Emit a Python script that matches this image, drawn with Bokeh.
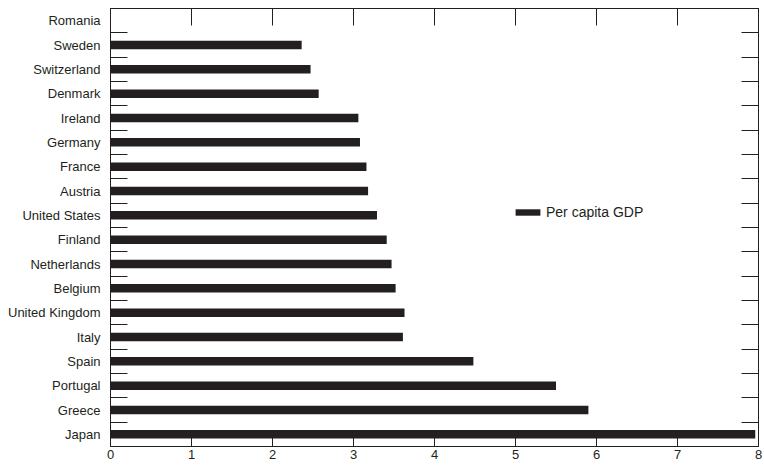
import math
from bokeh.plotting import figure
from bokeh.models import (ColumnDataSource, Range1d, LinearAxis, FixedTicker,
                          Legend, LegendItem, CustomJSTickFormatter)
from bokeh.embed import file_html
from bokeh.resources import INLINE

# ---- data ----
countries = ["Romania", "Sweden", "Switzerland", "Denmark", "Ireland", "Germany",
             "France", "Austria", "United States", "Finland", "Netherlands",
             "Belgium", "United Kingdom", "Italy", "Spain", "Portugal", "Greece",
             "Japan"]
gdp = [float("nan"), 2.36, 2.47, 2.57, 3.06, 3.08, 3.16, 3.18, 3.29, 3.41, 3.47,
       3.52, 3.63, 3.61, 4.48, 5.50, 5.90, 7.96]
x_ticks = [0, 1, 2, 3, 4, 5, 6, 7, 8]
series_name = "Per capita GDP"

INK = "#231f20"
FONT = "Liberation Sans"

n = len(countries)
centers = [i + 0.5 for i in range(n)]
bounds = [float(i) for i in range(1, n)]

src = ColumnDataSource(dict(y=centers, right=gdp, name=countries))

p = figure(width=764, height=466,
           x_range=Range1d(0, 8), y_range=Range1d(n, 0),
           x_axis_type=None, y_axis_type=None,
           output_backend="svg", toolbar_location=None,
           min_border_left=110, min_border_right=6, min_border_top=8,
           min_border_bottom=20)
p.background_fill_color = "white"
p.border_fill_color = "white"
p.outline_line_color = INK
p.outline_line_width = 1

r = p.hbar(y="y", left=0, right="right", height=0.35, source=src,
           fill_color=INK, line_color=None)

empty = CustomJSTickFormatter(code="return ''")

def style(ax):
    ax.axis_line_color = INK
    ax.major_tick_line_color = INK
    ax.minor_tick_line_color = INK
    ax.major_label_text_font = FONT
    ax.major_label_text_font_size = "13px"
    ax.major_label_text_color = INK

bottom = LinearAxis(ticker=FixedTicker(ticks=x_ticks, minor_ticks=[]),
                    major_tick_in=16, major_tick_out=0, minor_tick_in=0,
                    minor_tick_out=0, major_label_standoff=3)
style(bottom)
p.add_layout(bottom, "below")

top = LinearAxis(ticker=FixedTicker(ticks=x_ticks, minor_ticks=[]),
                 formatter=empty, major_tick_in=17, major_tick_out=0,
                 minor_tick_in=0, minor_tick_out=0, major_label_standoff=0)
style(top)
p.add_layout(top, "above")

left = LinearAxis(ticker=FixedTicker(ticks=centers, minor_ticks=bounds),
                  major_label_overrides={c: nm for c, nm in zip(centers, countries)},
                  major_tick_in=0, major_tick_out=0,
                  minor_tick_in=17, minor_tick_out=0, major_label_standoff=10)
style(left)
p.add_layout(left, "left")

right = LinearAxis(ticker=FixedTicker(ticks=centers, minor_ticks=bounds),
                   formatter=empty, major_tick_in=0, major_tick_out=0,
                   minor_tick_in=17, minor_tick_out=0, major_label_standoff=0)
style(right)
p.add_layout(right, "right")

legend = Legend(items=[LegendItem(label=series_name, renderers=[r])],
                location=(402, 226), padding=0, margin=0, spacing=0,
                border_line_alpha=0, background_fill_alpha=0,
                glyph_width=31, glyph_height=8, label_standoff=3,
                label_text_font=FONT, label_text_font_size="14px",
                label_text_color=INK)
p.add_layout(legend)

open("out.html", "w").write(file_html(p, INLINE))
